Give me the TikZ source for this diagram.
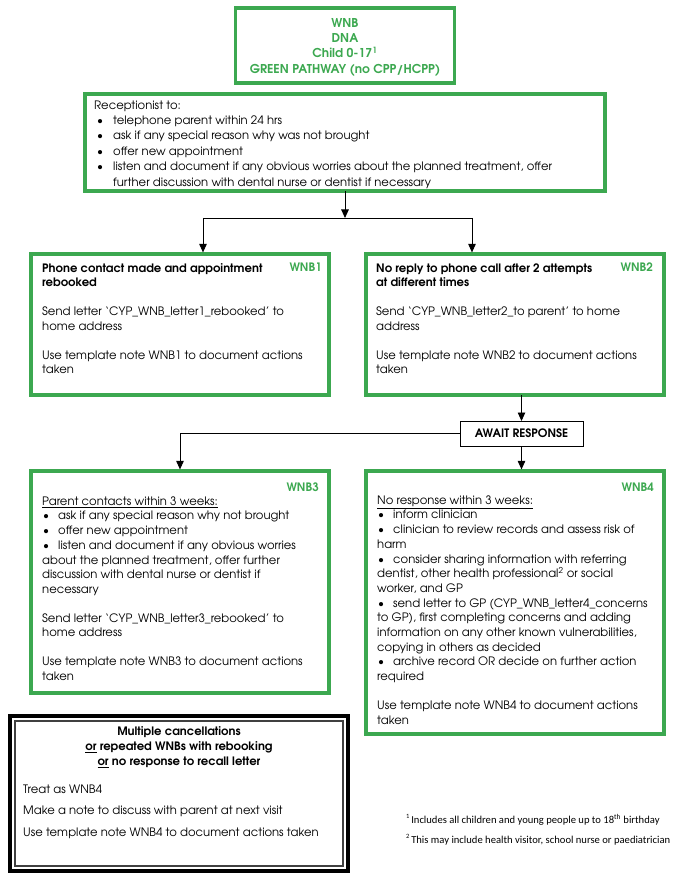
\documentclass[tikz,border=0pt]{standalone}
\usepackage{fontspec}
\setmainfont{TeX Gyre Adventor}
\newfontfamily\footfont{Carlito}
\usetikzlibrary{arrows.meta}
\definecolor{nhsgreen}{RGB}{60,168,80}
\newcommand\bulA{\hbox to 19pt{\hspace{3pt}\textbullet\hfil}}
\newcommand\bulB{\hbox to 16pt{\hspace{1pt}\textbullet\hfil}}
\begin{document}
\begin{tikzpicture}[x=1pt,y=-1pt,
 gbox/.style={draw=nhsgreen,line width=3.2pt,rectangle,inner sep=0pt,outer sep=0pt,anchor=north west},
 body/.style={inner sep=0pt,anchor=north west,yshift=10.29pt,align=left,font=\fontsize{11.6}{14.7}\selectfont},
 ctext/.style={inner sep=0pt,anchor=north,yshift=10.71pt,align=center,font=\fontsize{11.6}{15.3}\selectfont\bfseries},
 lbl/.style={inner sep=0pt,anchor=base east,font=\fontsize{11.6}{14.7}\selectfont\bfseries,text=nhsgreen},
 conn/.style={draw=black,line width=0.9pt},
 arr/.style={conn,-{Triangle[width=7.5pt,length=8.5pt]}},
 foot/.style={inner sep=0pt,anchor=base west,font=\footfont\fontsize{10.6}{12}\selectfont},
]
\useasboundingbox (0,0) rectangle (685,882);
% boxes
\node[gbox,minimum width=219pt,minimum height=75pt] (top) at (235.5,8) {};
\node[gbox,minimum width=520pt,minimum height=97pt] (rec) at (85,94) {};
\node[gbox,minimum width=298pt,minimum height=141pt] (wnb1) at (31,254) {};
\node[gbox,minimum width=298pt,minimum height=141pt] (wnb2) at (366,254) {};
\node[draw=black,line width=1pt,rectangle,inner sep=0pt,outer sep=0pt,anchor=north west,minimum width=123pt,minimum height=25pt] (await) at (460,421) {};
\node[gbox,minimum width=298pt,minimum height=222pt] (wnb3) at (31,471) {};
\node[gbox,minimum width=298pt,minimum height=263pt] (wnb4) at (366,471) {};
\node[draw=black,line width=4pt,rectangle,inner sep=0pt,outer sep=0pt,anchor=north west,minimum width=338pt,minimum height=155pt] (multi) at (10,716) {};
\node[draw=black!75,line width=1.2pt,rectangle,inner sep=0pt,outer sep=0pt,anchor=north west,minimum width=328pt,minimum height=145pt] (multiin) at (15,721) {};
% texts
\node[ctext,text=nhsgreen,font=\fontsize{12.2}{15.3}\selectfont\bfseries] (toptxt) at (345,27) {\strut WNB\\DNA\\Child 0-17\textsuperscript{1}\\GREEN PATHWAY (no CPP/HCPP)};
\node[body,font=\fontsize{11.6}{15.4}\selectfont,yshift=0.49pt] (rectxt) at (94,109) {\strut Receptionist to:\\
\bulA telephone parent within 24 hrs\\
\bulA ask if any special reason why was not brought\\
\bulA offer new appointment\\
\bulA listen and document if any obvious worries about the planned treatment, offer\\
\hspace*{19pt}further discussion with dental nurse or dentist if necessary};
\node[body] (w1txt) at (42,272) {\strut\textbf{Phone contact made and appointment}\\
\textbf{rebooked}\\[14pt]
Send letter ‘CYP\_WNB\_letter1\_rebooked’ to\\
home address\\[14pt]
Use template note WNB1 to document actions\\
taken};
\node[lbl] (w1lbl) at (322,272) {WNB1};
\node[body] (w2txt) at (376,272) {\strut\textbf{No reply to phone call after 2 attempts}\\
\textbf{at different times}\\[14pt]
Send ‘CYP\_WNB\_letter2\_to parent’ to home\\
address\\[14pt]
Use template note WNB2 to document actions\\
taken};
\node[lbl] (w2lbl) at (653,272) {WNB2};
\node[inner sep=0pt,font=\fontsize{11.6}{14.7}\selectfont\bfseries] (awaittxt) at (await.center) {AWAIT RESPONSE};
\node[lbl] (w3lbl) at (319,491) {WNB3};
\node[body] (w3txt) at (42,505) {\strut\underline{Parent contacts within 3 weeks:}\\
\bulB ask if any special reason why not brought\\
\bulB offer new appointment\\
\bulB listen and document if any obvious worries\\
about the planned treatment, offer further\\
discussion with dental nurse or dentist if\\
necessary\\[14pt]
Send letter ‘CYP\_WNB\_letter3\_rebooked’ to\\
home address\\[14pt]
Use template note WNB3 to document actions\\
taken};
\node[lbl] (w4lbl) at (654,491) {WNB4};
\node[body] (w4txt) at (377,504) {\strut\underline{No response within 3 weeks:}\\
\bulB inform clinician\\
\bulB clinician to review records and assess risk of\\
harm\\
\bulB consider sharing information with referring\\
dentist, other health professional\textsuperscript{2} or social\\
worker, and GP\\
\bulB send letter to GP (CYP\_WNB\_letter4\_concerns\\
to GP), first completing concerns and adding\\
information on any other known vulnerabilities,\\
copying in others as decided\\
\bulB archive record OR decide on further action\\
required\\[14pt]
Use template note WNB4 to document actions\\
taken};
\node[ctext] (multihead) at (179,735) {\strut Multiple cancellations\\
\underline{or} repeated WNBs with rebooking\\
\underline{or} no response to recall letter};
\node[body] (multitxt) at (23,793) {\strut Treat as WNB4\\[7pt]
Make a note to discuss with parent at next visit\\[7pt]
Use template note WNB4 to document actions taken};
\node[foot] (fn1) at (406,823) {\raisebox{5pt}{\fontsize{6.5}{7}\selectfont 1}\,Includes all children and young people up to 18\textsuperscript{th} birthday};
\node[foot] (fn2) at (406,843) {\raisebox{5pt}{\fontsize{6.5}{7}\selectfont 2}\,This may include health visitor, school nurse or paediatrician};
% connectors
\coordinate (split) at (345,218);
\coordinate (sl) at (203,218);
\coordinate (sr) at (472,218);
\draw[arr] (rec.south) -- (split);
\draw[conn] (sl) -- (sr);
\draw[arr,shorten >=1.6pt] (sl) -- (sl |- wnb1.north);
\draw[arr,shorten >=1.6pt] (sr) -- (sr |- wnb2.north);
\draw[arr] (wnb2.south -| await.north) -- (await.north);
\draw[arr,shorten >=1.6pt] (await.south) -- (await.south |- wnb4.north);
\draw[arr,shorten >=1.6pt] (await.west) -| (wnb3.north);
\end{tikzpicture}
\end{document}
